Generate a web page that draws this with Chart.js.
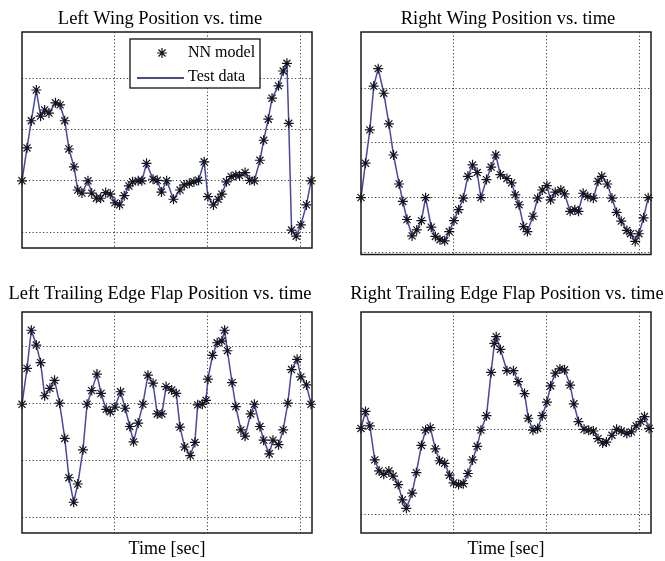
<!DOCTYPE html>
<html>
<head>
<meta charset="utf-8">
<title>NN model vs. test data</title>
<script src="https://cdn.jsdelivr.net/npm/chart.js"></script>
<style>
  html, body { margin: 0; padding: 0; background: #fff; }
  #wrap { position: relative; width: 665px; height: 561px; overflow: hidden; background: #fff; }
  canvas { position: absolute; }
</style>
</head>
<body>
<div id="wrap">
  <canvas id="leftWing" width="332" height="262" style="left:0px;top:0px"></canvas>
  <canvas id="rightWing" width="333" height="262" style="left:332px;top:0px"></canvas>
  <canvas id="leftFlap" width="332" height="281" style="left:0px;top:280px"></canvas>
  <canvas id="rightFlap" width="333" height="281" style="left:332px;top:280px"></canvas>
</div>
<script>
  "use strict";

  // time axis (grid only, no labels)
  const xTicks = [1, 2, 3];
  const timeMax = 3.12;

  const seriesLabels = ["NN model", "Test data"];

  /* Left wing */
  const lwTime = [0, 0.054, 0.1, 0.154, 0.2, 0.244, 0.29, 0.36, 0.41, 0.46, 0.505, 0.56, 0.6, 0.645, 0.71, 0.75,
    0.8, 0.846, 0.9, 0.95, 1.0, 1.05, 1.1, 1.15, 1.19, 1.25, 1.29, 1.34, 1.41, 1.455, 1.5, 1.556, 1.63, 1.7,
    1.745, 1.8, 1.85, 1.9, 1.96, 2.0, 2.06, 2.11, 2.15, 2.2, 2.25, 2.3, 2.34, 2.4, 2.45, 2.5, 2.56, 2.6, 2.65,
    2.69, 2.76, 2.81, 2.85, 2.87, 2.9, 2.95, 3.0, 3.06, 3.11];
  const lwPos = [1.0, 1.64, 2.17, 2.77, 2.26, 2.38, 2.32, 2.52, 2.48, 2.17, 1.62, 1.27, 0.82, 0.76, 1.0, 0.76,
    0.66, 0.66, 0.77, 0.74, 0.57, 0.53, 0.71, 0.9, 0.98, 1.0, 1.0, 1.34, 1.03, 1.01, 0.78, 1.0, 0.64, 0.82,
    0.92, 0.95, 0.98, 1.01, 1.37, 0.69, 0.53, 0.64, 0.74, 0.98, 1.08, 1.11, 1.1, 1.16, 1.01, 1.0, 1.4, 1.79, 2.2,
    2.61, 2.85, 3.14, 3.29, 2.12, 0.04, -0.08, 0.14, 0.53, 1.0];
  const lwTicks = [0, 1, 2, 3];

  /* Right wing */
  const rwTime = [0, 0.048, 0.095, 0.137, 0.185, 0.245, 0.3, 0.35, 0.41, 0.45, 0.495, 0.55, 0.6, 0.65, 0.695,
    0.756, 0.8, 0.85, 0.9, 0.95, 1.0, 1.05, 1.1, 1.15, 1.2, 1.25, 1.29, 1.35, 1.4, 1.45, 1.5, 1.57, 1.62, 1.66,
    1.7, 1.75, 1.79, 1.85, 1.9, 1.95, 2.0, 2.04, 2.09, 2.15, 2.19, 2.25, 2.3, 2.34, 2.39, 2.44, 2.5, 2.55, 2.59,
    2.65, 2.7, 2.75, 2.8, 2.86, 2.9, 2.95, 2.99, 3.04, 3.09];
  const rwPos = [1.0, 1.63, 2.24, 3.04, 3.36, 2.91, 2.35, 1.78, 1.25, 0.93, 0.6, 0.3, 0.41, 0.58, 1.0,
    0.46, 0.29, 0.23, 0.21, 0.38, 0.58, 0.78, 0.99, 1.39, 1.6, 1.46, 1.0, 1.33, 1.56, 1.78, 1.42, 1.35, 1.27, 1.05,
    0.87, 0.47, 0.38, 0.66, 0.99, 1.14, 1.22, 0.96, 1.1, 1.14, 1.07, 0.75, 0.78, 0.75, 1.08, 1.02, 0.99, 1.3, 1.39,
    1.25, 0.99, 0.73, 0.57, 0.4, 0.34, 0.2, 0.34, 0.63, 1.0];
  const rwTicks = [0, 1, 2, 3];

  /* Left trailing edge flap */
  const lfTime = [0, 0.054, 0.1, 0.154, 0.2, 0.244, 0.3, 0.35, 0.405, 0.46, 0.505, 0.556, 0.6, 0.656, 0.7,
    0.75, 0.806, 0.85, 0.906, 0.95, 1.0, 1.06, 1.11, 1.16, 1.2, 1.25, 1.3, 1.355, 1.41, 1.455, 1.505, 1.55, 1.61,
    1.66, 1.7, 1.75, 1.81, 1.86, 1.89, 1.94, 1.98, 2.0, 2.05, 2.1, 2.15, 2.18, 2.21, 2.26, 2.3, 2.355, 2.4, 2.46,
    2.5, 2.56, 2.6, 2.66, 2.7, 2.76, 2.81, 2.86, 2.9, 2.96, 3.0, 3.06, 3.11];
  const lfPos = [1.98, 2.61, 3.28, 3.02, 2.71, 2.13, 2.26, 2.4, 2.0, 1.38, 0.69, 0.26, 0.58, 1.18, 1.98,
    2.22, 2.51, 2.17, 1.89, 1.85, 1.93, 2.2, 1.91, 1.59, 1.32, 1.65, 1.98, 2.49, 2.35, 1.81, 1.81, 2.29, 2.23,
    2.17, 1.58, 1.23, 1.08, 1.31, 1.97, 1.98, 2.05, 2.42, 2.84, 3.06, 3.09, 3.28, 2.92, 2.36, 1.94, 1.53, 1.42, 1.81,
    1.98, 1.59, 1.35, 1.11, 1.35, 1.27, 1.53, 2.0, 2.59, 2.77, 2.46, 2.32, 1.98];
  const lfTicks = [0, 1, 2, 3];

  /* Right trailing edge flap */
  const rfTime = [0, 0.048, 0.095, 0.148, 0.195, 0.245, 0.3, 0.345, 0.4, 0.445, 0.488, 0.55, 0.595, 0.65,
    0.695, 0.745, 0.8, 0.845, 0.9, 0.953, 0.996, 1.05, 1.1, 1.15, 1.2, 1.25, 1.29, 1.35, 1.4, 1.435, 1.455, 1.5,
    1.57, 1.64, 1.69, 1.76, 1.8, 1.85, 1.9, 1.95, 2.0, 2.04, 2.09, 2.14, 2.19, 2.25, 2.29, 2.34, 2.4, 2.45, 2.5,
    2.55, 2.6, 2.64, 2.7, 2.75, 2.8, 2.86, 2.91, 2.96, 3.01, 3.05, 3.1];
  const rfPos = [1.01, 1.21, 1.04, 0.64, 0.51, 0.47, 0.51, 0.45, 0.35, 0.17, 0.07, 0.25, 0.49, 0.81,
    0.99, 1.02, 0.77, 0.63, 0.6, 0.46, 0.37, 0.35, 0.36, 0.48, 0.64, 0.8, 0.99, 1.16, 1.67, 2.01, 2.09, 1.94,
    1.69, 1.69, 1.56, 1.42, 1.13, 0.99, 1.01, 1.16, 1.32, 1.51, 1.66, 1.71, 1.7, 1.52, 1.3, 1.09, 1.0, 0.99, 0.98,
    0.89, 0.84, 0.85, 0.93, 1.0, 0.98, 0.95, 0.97, 1.04, 1.09, 1.15, 1.01];
  const rfTicks = [0, 1];

  Chart.defaults.font.family = '"Liberation Serif", "Times New Roman", serif';
  Chart.defaults.color = "#000";

  var lineColor = "#4848a0";
  var starColor = "#141420";
  var gridColor = "#3a3a3a";

  // box around the axes + the framed legend of the first panel
  var axesBox = {
    id: "axesBox",
    afterDatasetsDraw: function (chart, args, opts) {
      var ctx = chart.ctx;
      var ca = chart.chartArea;
      ctx.save();
      ctx.strokeStyle = "#1a1a1a";
      ctx.lineWidth = 1.5;
      ctx.strokeRect(ca.left, ca.top, ca.right - ca.left, ca.bottom - ca.top);

      if (opts.legend) {
        var lx = ca.left + 108, ly = ca.top + 7, lw = 130, lh = 49;
        ctx.fillStyle = "#fff";
        ctx.fillRect(lx, ly, lw, lh);
        ctx.lineWidth = 1.3;
        ctx.strokeStyle = "#111";
        ctx.strokeRect(lx, ly, lw, lh);

        // marker sample
        var sx = lx + 32, sy = ly + 14, r = 5, d = r * Math.SQRT1_2;
        ctx.strokeStyle = starColor;
        ctx.lineWidth = 1.2;
        ctx.beginPath();
        ctx.moveTo(sx - r, sy); ctx.lineTo(sx + r, sy);
        ctx.moveTo(sx, sy - r); ctx.lineTo(sx, sy + r);
        ctx.moveTo(sx - d, sy - d); ctx.lineTo(sx + d, sy + d);
        ctx.moveTo(sx - d, sy + d); ctx.lineTo(sx + d, sy - d);
        ctx.stroke();

        // line sample
        ctx.strokeStyle = lineColor;
        ctx.lineWidth = 2;
        ctx.beginPath();
        ctx.moveTo(lx + 7, ly + 39); ctx.lineTo(lx + 54, ly + 39);
        ctx.stroke();

        ctx.fillStyle = "#000";
        ctx.font = '16px "Liberation Serif"';
        ctx.textBaseline = "middle";
        ctx.textAlign = "left";
        ctx.fillText(seriesLabels[0], lx + 58, ly + 14);
        ctx.fillText(seriesLabels[1], lx + 58, ly + 38);
      }
      ctx.restore();
    },
  };

  function toPoints(time, pos) {
    return time.map(function (t, i) { return { x: t, y: pos[i] }; });
  }

  function makePanel(id, title, time, pos, yMin, yMax, yTicks, box) {
    var points = toPoints(time, pos);
    return new Chart(document.getElementById(id), {
      type: "line",
      data: {
        datasets: [
          {
            label: seriesLabels[0],
            data: points,
            showLine: false,
            pointStyle: "star",
            pointRadius: 5,
            pointBorderWidth: 1.2,
            pointBorderColor: starColor,
            pointBackgroundColor: starColor,
            clip: false,
            order: 0,
          },
          {
            label: seriesLabels[1],
            data: points,
            borderColor: lineColor,
            borderWidth: 1.5,
            pointRadius: 0,
            tension: 0,
            fill: false,
            order: 1,
          },
        ],
      },
      plugins: [axesBox],
      options: {
        responsive: false,
        animation: false,
        devicePixelRatio: 1,
        events: [],
        layout: {
          padding: { left: box.padL, right: box.padR, top: 0, bottom: box.padB },
        },
        plugins: {
          legend: { display: false },
          tooltip: { enabled: false },
          title: {
            display: true,
            text: title,
            color: "#000",
            font: { size: 18.5, weight: "normal" },
            padding: { top: box.titleTop, bottom: box.titleBottom },
          },
          axesBox: { legend: !!box.legend },
        },
        scales: {
          x: {
            type: "linear",
            min: 0,
            max: timeMax,
            afterBuildTicks: function (scale) {
              scale.ticks = xTicks.map(function (v) { return { value: v }; });
            },
            ticks: { display: false },
            grid: { color: gridColor, lineWidth: 1, drawTicks: false, borderDash: [1.2, 2.3] },
            border: { display: false, dash: [1.2, 2.3] },
            title: {
              display: !!box.xTitle,
              text: "Time [sec]",
              color: "#000",
              font: { size: 18, weight: "normal" },
              padding: { top: 5.2, bottom: 1.2 },
            },
          },
          y: {
            type: "linear",
            min: yMin,
            max: yMax,
            afterBuildTicks: function (scale) {
              scale.ticks = yTicks.map(function (v) { return { value: v }; });
            },
            afterFit: function (scale) {
              scale.width = box.yW;
            },
            ticks: { display: false },
            grid: { color: gridColor, lineWidth: 1, drawTicks: false, borderDash: [1.2, 2.3] },
            border: { display: false, dash: [1.2, 2.3] },
          },
          // empty right-hand axis, only holds the margin right of the box
          yr: {
            type: "linear",
            position: "right",
            afterFit: function (scale) {
              scale.width = box.yrW;
            },
            ticks: { display: false },
            grid: { display: false, drawTicks: false },
            border: { display: false },
          },
        },
      },
    });
  }

  makePanel("leftWing", "Left Wing Position vs. time", lwTime, lwPos, -0.31, 3.9, lwTicks,
    { padL: 0, padR: 12, padB: 14, yW: 22, yrW: 8, titleTop: 8, titleBottom: 1.8, legend: true });

  makePanel("rightWing", "Right Wing Position vs. time", rwTime, rwPos, -0.04, 4.03, rwTicks,
    { padL: 19, padR: 0, padB: 7.5, yW: 10, yrW: 14, titleTop: 8, titleBottom: 1.8 });

  makePanel("leftFlap", "Left Trailing Edge Flap Position vs. time", lfTime, lfPos, -0.28, 3.6, lfTicks,
    { padL: 0, padR: 12, padB: 0, yW: 22, yrW: 8, titleTop: 2.9, titleBottom: 6.9, xTitle: true });

  makePanel("rightFlap", "Right Trailing Edge Flap Position vs. time", rfTime, rfPos, -0.22, 2.38, rfTicks,
    { padL: 17, padR: 0, padB: 0, yW: 12, yrW: 14, titleTop: 2.9, titleBottom: 6.9, xTitle: true });
</script>
</body>
</html>
